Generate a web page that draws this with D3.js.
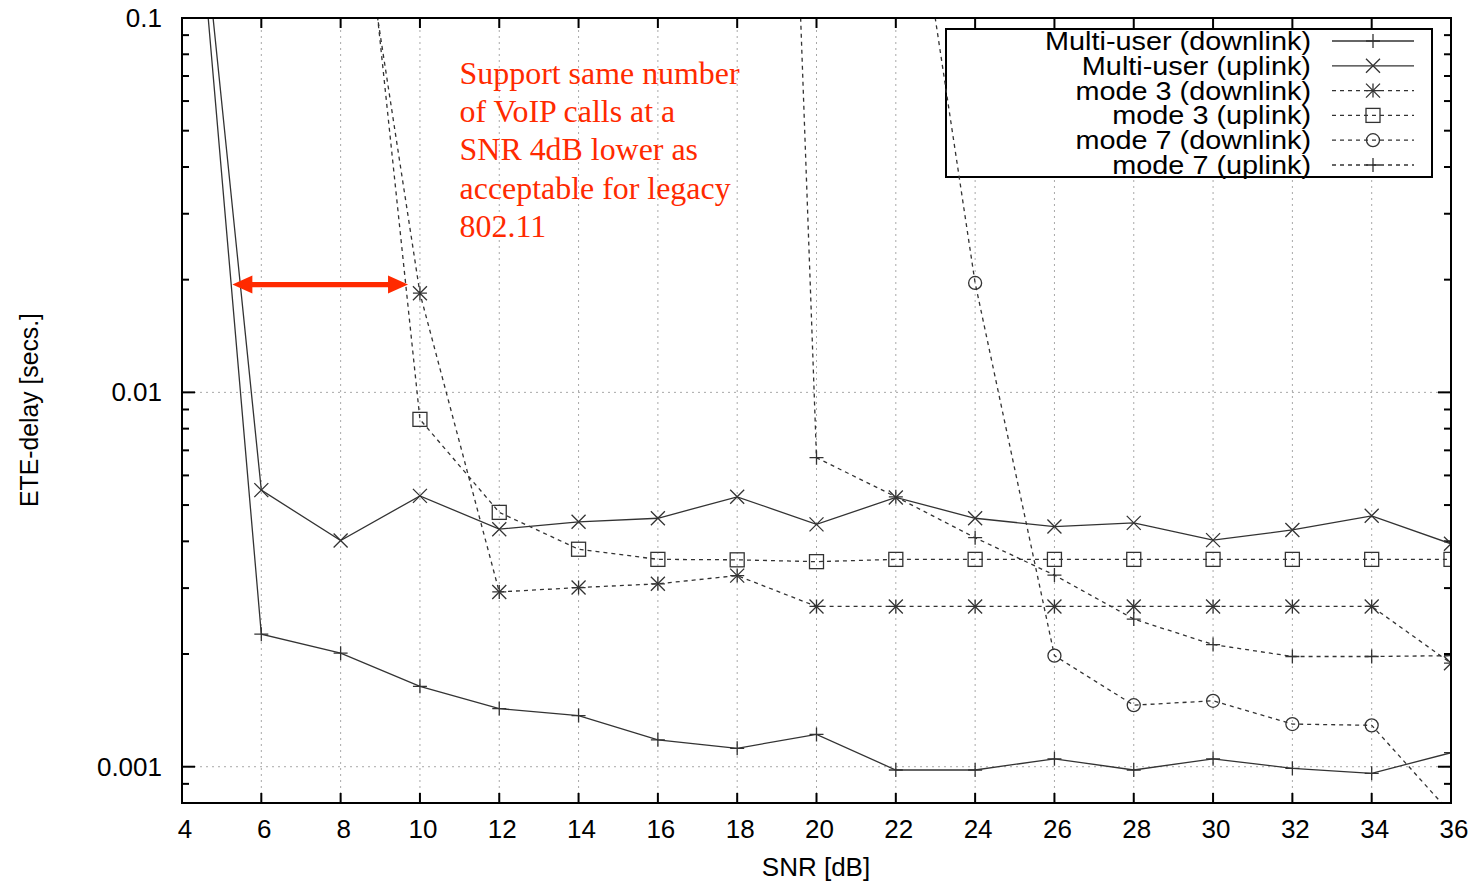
<!DOCTYPE html>
<meta charset="utf-8">
<style>
body{margin:0;background:#fff;}
text{font-family:"Liberation Sans",Arial,sans-serif;}
</style>
<body>
<div id="chart"></div>
<script src="https://d3js.org/d3.v7.min.js"></script>
<script>

var width = 1474,
    height = 882;

var margin = {top: 18, right: 23, bottom: 79, left: 182};

// SNR values (dB) on the x axis
var snr = [4, 6, 8, 10, 12, 14, 16, 18, 20, 22, 24, 26, 28, 30, 32, 34, 36];
var xTicks = [4, 6, 8, 10, 12, 14, 16, 18, 20, 22, 24, 26, 28, 30, 32, 34, 36];
var yTicks = [0.001, 0.01, 0.1];
var yTickLabels = ["0.001", "0.01", "0.1"];

// series, ETE delay in seconds
var muDownX = snr;
var muDown = [0.65, 0.00226, 0.00201, 0.00164, 0.00143, 0.00137, 0.00118, 0.00112, 0.00122,
              0.00098, 0.00098, 0.00105, 0.00098, 0.00105, 0.00099, 0.00096, 0.00109];

var muUpX = snr;
var muUp = [0.65, 0.00548, 0.00402, 0.00529, 0.00431, 0.00451, 0.00461, 0.00526, 0.00444,
            0.00524, 0.00461, 0.00438, 0.00448, 0.00403, 0.00429, 0.00468, 0.00394];

var m3DownX = [8, 10, 12, 14, 16, 18, 20, 22, 24, 26, 28, 30, 32, 34, 36];
var m3Down = [0.44, 0.0184, 0.00293, 0.00301, 0.00308, 0.00324, 0.00268, 0.00268,
              0.00268, 0.00268, 0.00268, 0.00268, 0.00268, 0.00268, 0.00189];

var m3UpX = [8, 10, 12, 14, 16, 18, 20, 22, 24, 26, 28, 30, 32, 34, 36];
var m3Up = [0.87, 0.00847, 0.00478, 0.00381, 0.00358, 0.00357, 0.00353, 0.00358,
            0.00358, 0.00358, 0.00358, 0.00358, 0.00358, 0.00358, 0.00358];

var m7DownX = [22, 24, 26, 28, 30, 32, 34, 36];
var m7Down = [0.5, 0.0196, 0.00198, 0.00146, 0.0015, 0.0013, 0.00129, 0.00075];

var m7UpX = [18, 20, 22, 24, 26, 28, 30, 32, 34, 36];
var m7Up = [5000, 0.00669, 0.00526, 0.00409, 0.00325, 0.00248, 0.00212, 0.00197, 0.00197, 0.00198];

var seriesNames = ["Multi-user (downlink)", "Multi-user (uplink)", "mode 3 (downlink)",
                   "mode 3 (uplink)", "mode 7 (downlink)", "mode 7 (uplink)"];

// annotation
var noteLines = ["Support same number", "of VoIP calls at a", "SNR 4dB lower as",
                 "acceptable for legacy", "802.11"];
var arrowSnr = [5.27, 9.7];
var arrowDelay = 0.0194;

var series = [
  {name: seriesNames[0], x: muDownX, y: muDown, dash: null, mark: "plus"},
  {name: seriesNames[1], x: muUpX, y: muUp, dash: null, mark: "cross"},
  {name: seriesNames[2], x: m3DownX, y: m3Down, dash: "4,4", mark: "star"},
  {name: seriesNames[3], x: m3UpX, y: m3Up, dash: "4,4", mark: "square"},
  {name: seriesNames[4], x: m7DownX, y: m7Down, dash: "4,4", mark: "circle"},
  {name: seriesNames[5], x: m7UpX, y: m7Up, dash: "4,4", mark: "plus"}
];

var svg = d3.select("#chart").append("svg")
    .attr("width", width)
    .attr("height", height);

var x = d3.scaleLinear().domain([4, 36]).range([margin.left, width - margin.right]);
var y = d3.scaleLog().domain([0.0008, 0.1]).range([height - margin.bottom, margin.top]);

var x0 = x.range()[0], x1 = x.range()[1], y0 = y.range()[0], y1 = y.range()[1];

svg.append("defs").append("clipPath").attr("id", "clip")
  .append("rect").attr("x", x0).attr("y", y1).attr("width", x1 - x0).attr("height", y0 - y1);

// stretch a text element sideways so it matches the wide lettering of the original
function widen(sel, k) {
  sel.each(function() {
    var w = this.getComputedTextLength();
    d3.select(this).attr("textLength", w * k).attr("lengthAdjust", "spacingAndGlyphs");
  });
}

// grid
var grid = svg.append("g").attr("stroke", "#a8a8a8").attr("stroke-width", 1).attr("stroke-dasharray", "2,4");
grid.selectAll(".gx").data(xTicks.slice(1, -1)).enter().append("line")
    .attr("x1", d => x(d)).attr("x2", d => x(d)).attr("y1", y1).attr("y2", y0);
grid.selectAll(".gy").data([0.001, 0.01]).enter().append("line")
    .attr("x1", x0).attr("x2", x1).attr("y1", d => y(d)).attr("y2", d => y(d));

// legend box (opaque over the grid)
var lg = {x: 946, y: 29, w: 486, h: 148, row: 24.8};
svg.append("rect").attr("x", lg.x).attr("y", lg.y).attr("width", lg.w).attr("height", lg.h)
    .attr("fill", "#fff").attr("stroke", "#000").attr("stroke-width", 2);

// ticks
var ticks = svg.append("g").attr("stroke", "#000").attr("stroke-width", 2);
xTicks.forEach(function(t) {
  ticks.append("line").attr("x1", x(t)).attr("x2", x(t)).attr("y1", y0).attr("y2", y0 - 10);
  ticks.append("line").attr("x1", x(t)).attr("x2", x(t)).attr("y1", y1).attr("y2", y1 + 10);
});
var minor = [];
[0.0001, 0.001, 0.01].forEach(function(dec) {
  for (var k = 1; k <= 9; k++) {
    var v = dec * k;
    if (v >= 0.0008 && v <= 0.1) minor.push({v: v, major: k === 1});
  }
});
minor.push({v: 0.1, major: true});
minor.forEach(function(m) {
  var len = m.major ? 13 : 7;
  ticks.append("line").attr("x1", x0).attr("x2", x0 + len).attr("y1", y(m.v)).attr("y2", y(m.v));
  ticks.append("line").attr("x1", x1).attr("x2", x1 - len).attr("y1", y(m.v)).attr("y2", y(m.v));
});

// tick labels
svg.append("g").selectAll("text").data(xTicks).enter().append("text")
    .attr("x", d => x(d) + 3).attr("y", y0 + 35)
    .attr("text-anchor", "middle").attr("font-size", 26).text(d => d);
svg.append("g").selectAll("text").data(yTicks).enter().append("text")
    .attr("x", x0 - 20).attr("y", d => y(d) + 9)
    .attr("text-anchor", "end").attr("font-size", 26).text((d, i) => yTickLabels[i]);

svg.append("text").attr("x", 816).attr("y", 876).attr("text-anchor", "middle")
    .attr("font-size", 26).text("SNR [dB]");
svg.append("text").attr("transform", "translate(38,410) rotate(-90)")
    .attr("text-anchor", "middle").attr("font-size", 25)
    .attr("textLength", 194).attr("lengthAdjust", "spacingAndGlyphs")
    .text("ETE-delay [secs.]");

// markers
function marker(g, kind, cx, cy) {
  var s = 7;
  var p = g.append("g").attr("transform", "translate(" + cx + "," + cy + ")")
      .attr("stroke", "#333").attr("stroke-width", 1.3).attr("fill", "none");
  if (kind === "plus" || kind === "star") {
    p.append("path").attr("d", "M" + (-s) + ",0H" + s + "M0," + (-s) + "V" + s);
  }
  if (kind === "cross" || kind === "star") {
    p.append("path").attr("d", "M" + (-s) + "," + (-s) + "L" + s + "," + s + "M" + (-s) + "," + s + "L" + s + "," + (-s));
  }
  if (kind === "square") p.append("rect").attr("x", -s).attr("y", -s).attr("width", 2 * s).attr("height", 2 * s);
  if (kind === "circle") p.append("circle").attr("r", 6.5);
}

var line = d3.line().x(d => x(d[0])).y(d => y(d[1]));

var plot = svg.append("g").attr("clip-path", "url(#clip)");
series.forEach(function(s) {
  var pts = s.x.map((v, i) => [v, s.y[i]]);
  plot.append("path").attr("d", line(pts))
      .attr("fill", "none").attr("stroke", "#333").attr("stroke-width", 1.3)
      .attr("stroke-dasharray", s.dash);
  pts.forEach(function(p) {
    if (p[1] <= 0.1 && p[1] >= 0.0008) marker(plot, s.mark, x(p[0]), y(p[1]));
  });
});

// legend entries
var legendText = svg.append("g");
series.forEach(function(s, i) {
  var ly = lg.y + 12 + i * lg.row;
  legendText.append("text").attr("x", 1311).attr("y", ly + 9).attr("text-anchor", "end")
      .attr("font-size", 25).text(s.name);
  svg.append("line").attr("x1", 1332).attr("x2", 1414).attr("y1", ly).attr("y2", ly)
      .attr("stroke", "#333").attr("stroke-width", 1.3).attr("stroke-dasharray", s.dash);
  marker(svg, s.mark, 1373, ly);
});
var firstW = legendText.select("text").node().getComputedTextLength();
widen(legendText.selectAll("text"), 266 / firstW);

// frame
svg.append("rect").attr("x", x0).attr("y", y1).attr("width", x1 - x0).attr("height", y0 - y1)
    .attr("fill", "none").attr("stroke", "#000").attr("stroke-width", 2);

// red annotation
var red = "#ff2a00";
var note = svg.append("g").attr("fill", red).attr("font-size", 31)
    .style("font-family", "'Liberation Serif','Times New Roman',serif");
noteLines.forEach(function(t, i) {
  note.append("text").attr("x", x(11)).attr("y", 84 + i * 38.2)
      .style("font-family", "'Liberation Serif','Times New Roman',serif").text(t);
});
var noteW = note.select("text").node().getComputedTextLength();
widen(note.selectAll("text"), 280 / noteW);

var ax0 = x(arrowSnr[0]), ax1 = x(arrowSnr[1]), ay = y(arrowDelay);
var head = 20, hh = 9, sh = 2.6;
svg.append("path")
    .attr("d", "M" + ax0 + "," + ay +
      "L" + (ax0 + head) + "," + (ay - hh) + "V" + (ay - sh) +
      "H" + (ax1 - head) + "V" + (ay - hh) + "L" + ax1 + "," + ay +
      "L" + (ax1 - head) + "," + (ay + hh) + "V" + (ay + sh) +
      "H" + (ax0 + head) + "V" + (ay + hh) + "Z")
    .attr("fill", red);

</script>
</body>
</html>
